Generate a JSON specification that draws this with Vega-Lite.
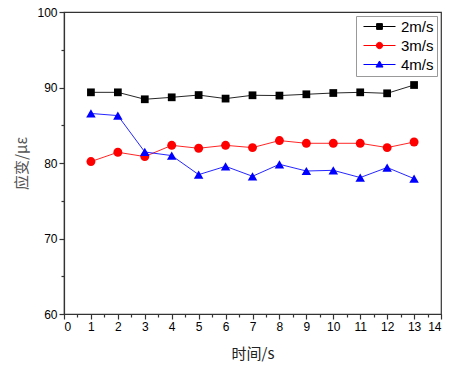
{
  "$schema": "https://vega.github.io/schema/vega-lite/v6.json",
  "width": 377,
  "height": 302,
  "autosize": {"type": "none"},
  "padding": {"left": 64, "top": 12, "right": 11, "bottom": 61},
  "background": "white",
  "config": {
    "view": {"stroke": "#333", "strokeWidth": 1.2},
    "font": "Liberation Sans",
    "axis": {"domainColor": "#333", "tickColor": "#333", "domainWidth": 1.2, "tickWidth": 1.2, "grid": false, "labelColor": "#000", "labelFont": "Liberation Sans"},
    "legend": {"title": null, "orient": "top-right", "offset": 4, "strokeColor": "#999", "padding": 3, "labelFontSize": 15, "labelColor": "#000", "symbolSize": 41, "rowPadding": 3, "fillColor": "white", "symbolOffset": 13, "labelOffset": 14, "symbolStrokeWidth": 1}
  },
  "data": {
    "values": [
      {"series": "2m/s", "t": 1, "v": 89.36}, {"series": "2m/s", "t": 2, "v": 89.36}, {"series": "2m/s", "t": 3, "v": 88.44}, {"series": "2m/s", "t": 4, "v": 88.7}, {"series": "2m/s", "t": 5, "v": 89.0}, {"series": "2m/s", "t": 6, "v": 88.53}, {"series": "2m/s", "t": 7, "v": 88.97}, {"series": "2m/s", "t": 8, "v": 88.93}, {"series": "2m/s", "t": 9, "v": 89.1}, {"series": "2m/s", "t": 10, "v": 89.27}, {"series": "2m/s", "t": 11, "v": 89.36}, {"series": "2m/s", "t": 12, "v": 89.23}, {"series": "2m/s", "t": 13, "v": 90.33},
      {"series": "3m/s", "t": 1, "v": 80.19}, {"series": "3m/s", "t": 2, "v": 81.42}, {"series": "3m/s", "t": 3, "v": 80.85}, {"series": "3m/s", "t": 4, "v": 82.34}, {"series": "3m/s", "t": 5, "v": 81.95}, {"series": "3m/s", "t": 6, "v": 82.34}, {"series": "3m/s", "t": 7, "v": 82.04}, {"series": "3m/s", "t": 8, "v": 82.97}, {"series": "3m/s", "t": 9, "v": 82.61}, {"series": "3m/s", "t": 10, "v": 82.61}, {"series": "3m/s", "t": 11, "v": 82.61}, {"series": "3m/s", "t": 12, "v": 82.04}, {"series": "3m/s", "t": 13, "v": 82.78},
      {"series": "4m/s", "t": 1, "v": 86.56}, {"series": "4m/s", "t": 2, "v": 86.28}, {"series": "4m/s", "t": 3, "v": 81.46}, {"series": "4m/s", "t": 4, "v": 80.98}, {"series": "4m/s", "t": 5, "v": 78.46}, {"series": "4m/s", "t": 6, "v": 79.56}, {"series": "4m/s", "t": 7, "v": 78.24}, {"series": "4m/s", "t": 8, "v": 79.83}, {"series": "4m/s", "t": 9, "v": 78.94}, {"series": "4m/s", "t": 10, "v": 79.03}, {"series": "4m/s", "t": 11, "v": 78.07}, {"series": "4m/s", "t": 12, "v": 79.4}, {"series": "4m/s", "t": 13, "v": 77.93}
    ]
  },
  "resolve": {"axis": {"x": "independent", "y": "independent"}},
  "encoding": {
    "color": {"field": "series", "type": "nominal", "scale": {"domain": ["2m/s", "3m/s", "4m/s"], "range": ["#000000", "#ff0000", "#0000ff"]}}
  },
  "layer": [
    {
      "mark": {"type": "line", "strokeWidth": 1, "strokeOpacity": 0.85},
      "encoding": {
        "x": {"field": "t", "type": "quantitative", "scale": {"domain": [0, 14], "nice": false},
              "axis": {"orient": "bottom", "values": [0.5,1.5,2.5,3.5,4.5,5.5,6.5,7.5,8.5,9.5,10.5,11.5,12.5,13.5], "labels": false, "tickSize": 3, "domain": false, "title": null}},
        "y": {"field": "v", "type": "quantitative", "scale": {"domain": [60, 100], "nice": false, "zero": false},
              "axis": {"orient": "left", "values": [65, 75, 85, 95], "labels": false, "tickSize": 3, "domain": false, "title": null}}
      }
    },
    {
      "transform": [{"filter": "datum.series === '2m/s'"}],
      "mark": {"type": "point", "shape": "square", "filled": true, "opacity": 1, "size": 60},
      "encoding": {
        "x": {"field": "t", "type": "quantitative", "scale": {"domain": [0, 14], "nice": false},
              "axis": {"orient": "bottom", "values": [0,1,2,3,4,5,6,7,8,9,10,11,12,13,14], "tickSize": 5, "labelFontSize": 12, "labelPadding": 2, "title": "时间/s", "titleFont": "Noto Sans CJK SC", "titleFontSize": 15, "titleFontWeight": "normal", "titleColor": "#222", "titlePadding": 14}},
        "y": {"field": "v", "type": "quantitative", "scale": {"domain": [60, 100], "nice": false, "zero": false},
              "axis": {"orient": "left", "values": [60, 70, 80, 90, 100], "tickSize": 5, "labelFontSize": 12, "labelPadding": 2, "title": "应变/με", "titleFont": "Noto Sans CJK SC", "titleFontSize": 15, "titleFontWeight": "normal", "titleColor": "#555", "titlePadding": 7}}
      }
    },
    {
      "transform": [{"filter": "datum.series === '3m/s'"}],
      "mark": {"type": "point", "shape": "circle", "filled": true, "opacity": 1, "size": 80},
      "encoding": {
        "x": {"field": "t", "type": "quantitative", "axis": null},
        "y": {"field": "v", "type": "quantitative", "axis": null}
      }
    },
    {
      "transform": [{"filter": "datum.series === '4m/s'"}],
      "mark": {"type": "point", "shape": "triangle-up", "filled": true, "opacity": 1, "size": 90},
      "encoding": {
        "x": {"field": "t", "type": "quantitative", "axis": null},
        "y": {"field": "v", "type": "quantitative", "axis": null}
      }
    },
    {
      "transform": [{"filter": "false"}],
      "mark": {"type": "point", "filled": true, "strokeWidth": 1},
      "encoding": {
        "stroke": {"field": "series", "type": "nominal", "scale": {"domain": ["2m/s", "3m/s", "4m/s"], "range": ["#000000", "#ff6666", "#6666ff"]}},
        "shape": {"field": "series", "type": "nominal", "scale": {"domain": ["2m/s", "3m/s", "4m/s"], "range": ["M-5,0H5M-0.9,-0.9H0.9V0.9H-0.9Z", "M-5,0H5M1,0A1,1,0,1,1,-1,0A1,1,0,1,1,1,0Z", "M-5,0H5M0,-1.1L1.1,0.8H-1.1Z"]}}
      }
    }
  ]
}
